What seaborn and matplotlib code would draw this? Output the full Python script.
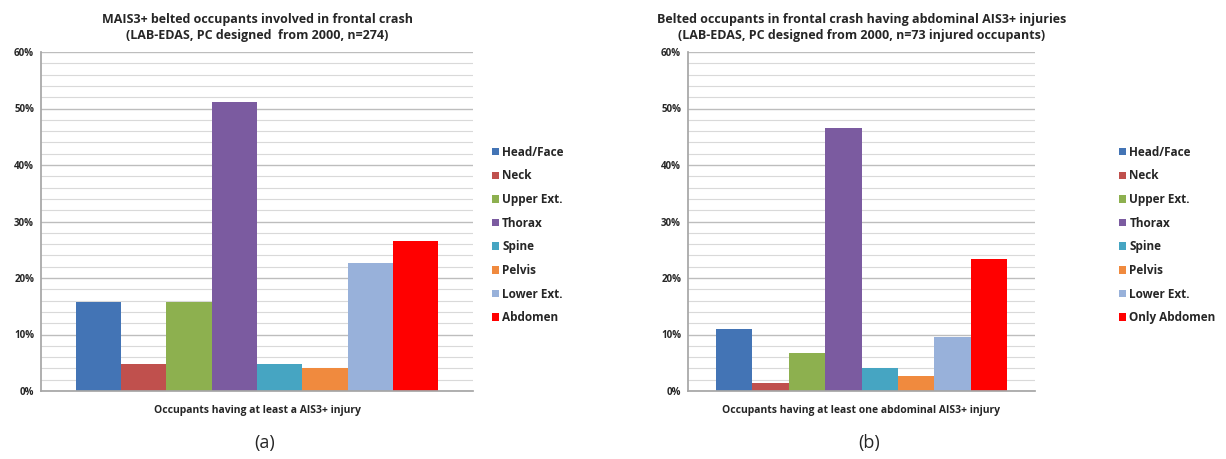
import matplotlib
matplotlib.use("Agg")
import matplotlib.pyplot as plt
import seaborn as sns
import pandas as pd
from matplotlib.ticker import MultipleLocator, FuncFormatter

sns.set_theme(style="white")
plt.rcParams['font.family'] = ['Open Sans', 'DejaVu Sans']

regions_a = ["Head/Face", "Neck", "Upper Ext.", "Thorax", "Spine", "Pelvis", "Lower Ext.", "Abdomen"]
values_a = [15.7, 4.7, 15.7, 51.1, 4.7, 4.0, 22.6, 26.6]
regions_b = ["Head/Face", "Neck", "Upper Ext.", "Thorax", "Spine", "Pelvis", "Lower Ext.", "Only Abdomen"]
values_b = [11.0, 1.4, 6.8, 46.6, 4.1, 2.7, 9.6, 23.3]
colors = ["#4374B5", "#C0504D", "#8DB04F", "#7B5BA0", "#46A5C2", "#F08A3E", "#98B1DA", "#FF0000"]

title_a = "MAIS3+ belted occupants involved in frontal crash\n(LAB-EDAS, PC designed  from 2000, n=274)"
title_b = "Belted occupants in frontal crash having abdominal AIS3+ injuries\n(LAB-EDAS, PC designed from 2000, n=73 injured occupants)"
xlabel_a = "Occupants having at least a AIS3+ injury"
xlabel_b = "Occupants having at least one abdominal AIS3+ injury"

fig = plt.figure(figsize=(12.26, 4.59), dpi=100)
W, H = 1226, 459

def panel(left_px, right_px, regions, values, title, xlabel, tag, legend_x):
    ax = fig.add_axes([left_px / W, 1 - 391 / H, (right_px - left_px) / W, (391 - 52) / H])
    df = pd.DataFrame({"cat": [xlabel] * len(regions), "region": regions, "val": values})
    sns.barplot(data=df, x="cat", y="val", hue="region", hue_order=regions,
                palette=colors, ax=ax, width=0.84, gap=0, saturation=1,
                linewidth=0, errorbar=None)
    ax.set_ylim(0, 60)
    ax.set_xlim(-0.5, 0.5)
    ax.yaxis.set_major_locator(MultipleLocator(10))
    ax.yaxis.set_minor_locator(MultipleLocator(2))
    ax.yaxis.set_major_formatter(FuncFormatter(lambda v, p: f"{int(v)}%"))
    ax.grid(True, which="major", axis="y", color="#BDBDBD", linewidth=1.0)
    ax.grid(True, which="minor", axis="y", color="#D9D9D9", linewidth=0.8)
    ax.set_axisbelow(True)
    for s in ["top", "right"]:
        ax.spines[s].set_visible(False)
    ax.spines["left"].set_color("#A6A6A6")
    ax.spines["bottom"].set_color("#A6A6A6")
    ax.set_xticks([])
    ax.set_ylabel("")
    ax.set_xlabel(xlabel, fontsize=7.5, fontweight="bold", labelpad=10)
    ax.tick_params(axis="y", which="major", labelsize=7, length=3, color="#A6A6A6", pad=2)
    ax.tick_params(axis="y", which="minor", length=2, color="#A6A6A6")
    for t in ax.get_yticklabels():
        t.set_fontweight("bold")
    ax.set_title(title, fontsize=9, fontweight="bold", pad=9, linespacing=1.4)
    handles, labels = ax.get_legend_handles_labels()
    if ax.get_legend():
        ax.get_legend().remove()
    fig.legend(handles, labels, loc="center left", bbox_to_anchor=(legend_x / W, 1 - 235 / H),
               frameon=False, handlelength=0.6, handleheight=0.6,
               handletextpad=0.3, labelspacing=0.9, prop={"weight": "bold", "size": 8.5})
    cx = (left_px + right_px) / 2 / W
    fig.text(cx + 0.006, 1 - 443 / H, tag, ha="center", va="center", fontsize=13)
    return ax

panel(41, 473, regions_a, values_a, title_a, xlabel_a, "(a)", 481)
panel(688, 1035, regions_b, values_b, title_b, xlabel_b, "(b)", 1108)

fig.savefig("out.png", dpi=100, facecolor="white")
